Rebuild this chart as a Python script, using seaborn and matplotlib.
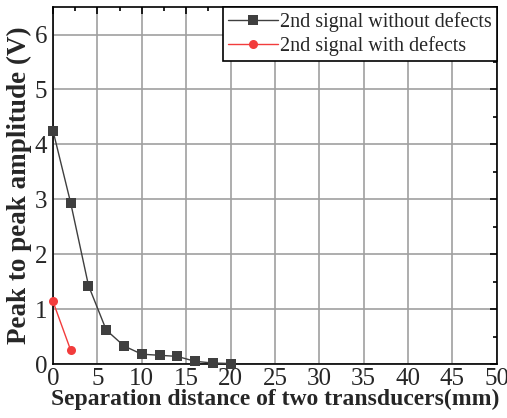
import matplotlib
matplotlib.use("Agg")
import matplotlib.pyplot as plt
import seaborn as sns
import pandas as pd
from matplotlib.ticker import MultipleLocator

x_without = [0, 2, 4, 6, 8, 10, 12, 14, 16, 18, 20]
y_without = [4.25, 2.93, 1.43, 0.62, 0.33, 0.18, 0.16, 0.14, 0.05, 0.02, 0.01]
x_with = [0, 2]
y_with = [1.14, 0.25]
labels = ["2nd signal without defects", "2nd signal with defects"]

df = pd.DataFrame({
    "x": x_without + x_with,
    "y": y_without + y_with,
    "series": [labels[0]] * len(x_without) + [labels[1]] * len(x_with),
})

sns.set_style("white")
plt.rcParams["font.family"] = ["Liberation Serif", "DejaVu Serif"]
plt.rcParams["mathtext.fontset"] = "stix"

fig = plt.figure(figsize=(5.07, 4.18), dpi=100)
ax = fig.add_axes([0.1045, 0.129, 0.8755, 0.854])

palette = {labels[0]: "#3f3f3f", labels[1]: "#f23c3c"}
sns.lineplot(data=df, x="x", y="y", hue="series", style="series",
             markers={labels[0]: "s", labels[1]: "o"}, dashes=False,
             palette=palette, markersize=6.5, markeredgewidth=0, linewidth=1,
             ax=ax, clip_on=False, zorder=5)

ax.set_xlim(0, 50)
ax.set_ylim(0, 6.5)
ax.xaxis.set_major_locator(MultipleLocator(5))
ax.xaxis.set_minor_locator(MultipleLocator(2.5))
ax.yaxis.set_major_locator(MultipleLocator(1))
ax.yaxis.set_minor_locator(MultipleLocator(0.5))
ax.grid(True, which="major", color="#a0a0a0", linewidth=1.2)
ax.set_axisbelow(True)
ax.tick_params(which="both", direction="in", top=True, right=True,
               labelsize=18, color="black")
ax.tick_params(which="major", length=5, width=1.2)
ax.tick_params(which="minor", length=3, width=1.2)
ax.tick_params(axis="x", pad=3)
ax.tick_params(axis="y", pad=4)
for s in ax.spines.values():
    s.set_color("black")
    s.set_linewidth(1.2)

ax.set_xlabel("Separation distance of two transducers(mm)", fontsize=17,
              fontweight="bold", labelpad=-1)
ax.set_ylabel("Peak to peak amplitude (V)", fontsize=19.5, fontweight="bold",
              labelpad=2)

leg = ax.legend(loc="upper right", fontsize=14.5, frameon=True, fancybox=False,
                edgecolor="black", borderaxespad=0, handlelength=2.5,
                borderpad=0.25, labelspacing=0.2, handletextpad=0.1,
                framealpha=1)
leg.get_frame().set_linewidth(1.2)
leg.set_title(None)

fig.savefig("out.png", dpi=100)
